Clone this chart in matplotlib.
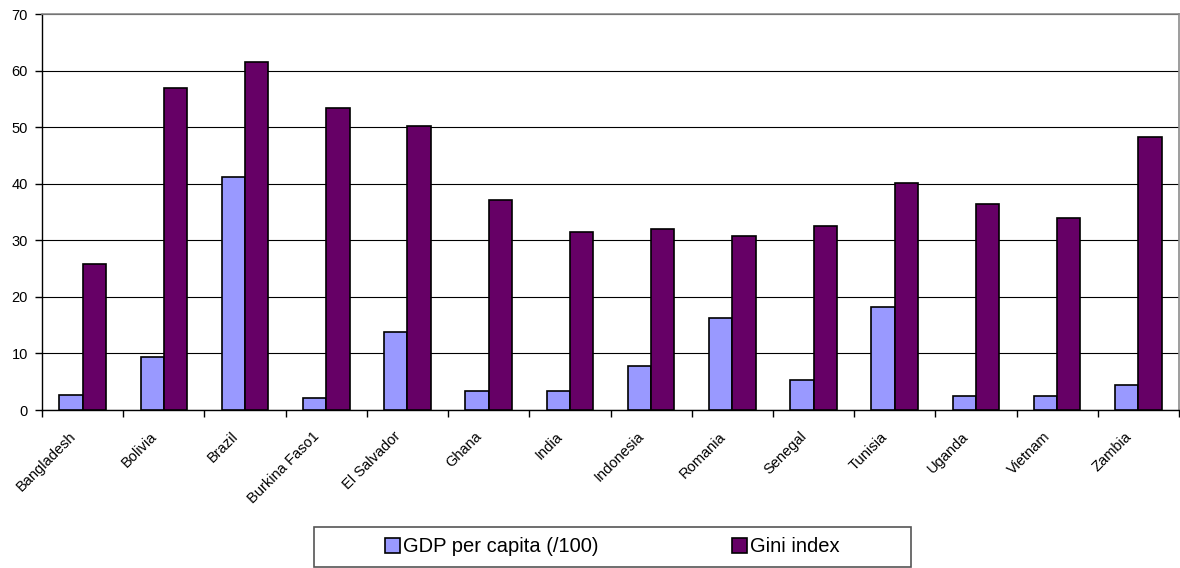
import numpy as np
import matplotlib
matplotlib.use("Agg")
import matplotlib.pyplot as plt
from matplotlib.patches import Rectangle

plt.rcParams['font.family'] = ['Liberation Sans', 'DejaVu Sans']

countries = ['Bangladesh', 'Bolivia', 'Brazil', 'Burkina Faso1', 'El Salvador',
             'Ghana', 'India', 'Indonesia', 'Romania', 'Senegal', 'Tunisia',
             'Uganda', 'Vietnam', 'Zambia']
gdp_per_capita = [2.7, 9.4, 41.1, 2.1, 13.8, 3.4, 3.3, 7.7, 16.2, 5.3, 18.2, 2.5, 2.4, 4.5]
gini_index = [25.8, 56.9, 61.6, 53.4, 50.2, 37.2, 31.5, 32.0, 30.8, 32.5, 40.1, 36.4, 34.0, 48.3]
y_ticks = [0, 10, 20, 30, 40, 50, 60, 70]

fig = plt.figure(figsize=(11.8, 5.68), dpi=100)
ax = fig.add_axes([42 / 1180, 158 / 568, 1137 / 1180, 396 / 568])

x = np.arange(len(countries))
w = 0.287
ax.bar(x - w / 2, gdp_per_capita, w, color='#9999FF', edgecolor='black',
       linewidth=1.2, label='GDP per capita (/100)', zorder=3)
ax.bar(x + w / 2, gini_index, w, color='#660066', edgecolor='black',
       linewidth=1.2, label='Gini index', zorder=3)

ax.set_xlim(-0.5, len(countries) - 0.5)
ax.set_ylim(0, 70)
ax.set_yticks(y_ticks)
ax.tick_params(axis='y', direction='out', length=5, width=1, labelsize=10.5, pad=5)

# labels sit a little left of the centres, tick marks at the category boundaries
ax.set_xticks(x - 0.175)
ax.set_xticklabels(countries, rotation=45, ha='right', va='top',
                   rotation_mode='anchor', fontsize=10.5)
ax.tick_params(axis='x', which='major', length=0, pad=14)
ax.set_xticks(np.arange(len(countries) + 1) - 0.5, minor=True)
ax.tick_params(axis='x', which='minor', direction='out', length=5, width=1)

ax.yaxis.grid(True, color='black', linewidth=0.8, zorder=0)
ax.set_axisbelow(True)
for side in ['top', 'right']:
    ax.spines[side].set_color('#8c8c8c')
    ax.spines[side].set_linewidth(1.2)
for side in ['left', 'bottom']:
    ax.spines[side].set_color('black')
    ax.spines[side].set_linewidth(1)

# legend box drawn separately
fig.patches.append(Rectangle((314 / 1180, 1 / 568), 597 / 1180, 40 / 568,
                             transform=fig.transFigure, facecolor='white',
                             edgecolor='#555555', linewidth=1.2))
handles, labels = ax.get_legend_handles_labels()
fig.legend(handles, labels, loc='center', ncol=2, frameon=False,
           bbox_to_anchor=(612.5 / 1180, 1 - 547 / 568), fontsize=14.5,
           handlelength=0.75, handleheight=0.75, handletextpad=0.15,
           columnspacing=6.6, borderpad=0)

fig.savefig('out.png', dpi=100)
